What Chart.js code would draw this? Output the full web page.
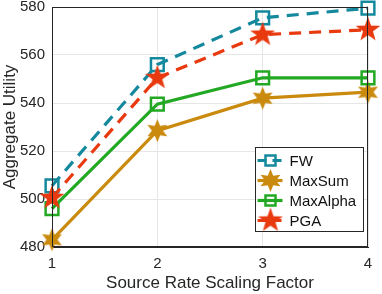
<!DOCTYPE html>
<html>
<head>
  <meta charset="UTF-8">
  <script src="https://cdn.jsdelivr.net/npm/chart.js"></script>
  <style>
    html, body { margin: 0; padding: 0; background: #fff; }
    #wrap { width: 382px; height: 294px; }
  </style>
</head>
<body>
<div id="wrap"><canvas id="chart" width="382" height="294"></canvas></div>
<script>
  // data
  const scaling = [1, 2, 3, 4];
  const fw = [505.5, 556, 575.5, 579.5];
  const maxSum = [483, 528.5, 542, 544.5];
  const maxAlpha = [496, 539.5, 550.5, 550.5];
  const pga = [500.5, 550.5, 568.5, 570.5];
  const yTicks = [480, 500, 520, 540, 560, 580];
  const names = ['FW', 'MaxSum', 'MaxAlpha', 'PGA'];

  const teal = '#14899d', gold = '#c98a0e', green = '#22a822', red = '#e8390f';

  // star shaped markers drawn on small canvases
  function starImg(n, rOut, rIn, color) {
    const s = Math.ceil(rOut * 2 + 4);
    const c = document.createElement('canvas');
    c.width = s; c.height = s;
    const g = c.getContext('2d');
    g.beginPath();
    for (let i = 0; i < n * 2; i++) {
      const r = i % 2 ? rIn : rOut;
      const a = -Math.PI / 2 + i * Math.PI / n;
      g.lineTo(s / 2 + r * Math.cos(a), s / 2 + r * Math.sin(a));
    }
    g.closePath();
    g.fillStyle = color;
    g.fill();
    return c;
  }
  const pentagram = starImg(5, 13, 5.2, red);
  const hexagram = starImg(6, 11.5, 5.5, gold);

  const pts = v => v.map((y, i) => ({ x: scaling[i], y: y }));

  const datasets = [
    { label: names[0], data: pts(fw), borderColor: teal, borderDash: [12, 8], pointStyle: 'rect', pointRadius: 9, pointBorderWidth: 2.5, order: 4 },
    { label: names[1], data: pts(maxSum), borderColor: gold, borderDash: [], pointStyle: hexagram, order: 3 },
    { label: names[2], data: pts(maxAlpha), borderColor: green, borderDash: [], pointStyle: 'rect', pointRadius: 9, pointBorderWidth: 2.5, order: 2 },
    { label: names[3], data: pts(pga), borderColor: red, borderDash: [12, 8], pointStyle: pentagram, order: 1 }
  ].map(d => Object.assign({
    borderWidth: 3.2,
    tension: 0,
    clip: false,
    pointBackgroundColor: 'rgba(0,0,0,0)',
    pointBorderColor: d.borderColor
  }, d));

  // legend inside the plot, bottom right, plus the axes box
  const boxLegend = {
    id: 'boxLegend',
    afterDraw(chart) {
      const ctx = chart.ctx, a = chart.chartArea;
      ctx.save();
      ctx.strokeStyle = '#262626';
      ctx.lineWidth = 1;
      ctx.strokeRect(a.left + 0.5, a.top + 0.5, a.right - a.left - 1, a.bottom - a.top - 1);

      const x0 = 255.5, y0 = 147.5, w = 108, h = 84;
      ctx.fillStyle = '#fff';
      ctx.fillRect(x0, y0, w, h);
      ctx.strokeStyle = '#262626';
      ctx.strokeRect(x0, y0, w, h);
      ctx.font = '15px "Liberation Sans", Arial, sans-serif';
      ctx.textBaseline = 'middle';
      chart.data.datasets.forEach((d, i) => {
        const y = y0 + 13 + i * 20;
        ctx.strokeStyle = d.borderColor;
        ctx.lineWidth = d.borderWidth;
        ctx.setLineDash(d.borderDash.length ? [9, 6] : []);
        ctx.beginPath();
        ctx.moveTo(x0 + 2, y); ctx.lineTo(x0 + 27, y);
        ctx.stroke();
        ctx.setLineDash([]);
        const mx = x0 + 15;
        if (d.pointStyle === 'rect') {
          ctx.lineWidth = 2.5;
          ctx.strokeRect(mx - 5, y - 5, 10, 10);
        } else {
          const im = d.pointStyle;
          ctx.drawImage(im, mx - im.width / 2, y - im.height / 2);
        }
        ctx.fillStyle = '#111';
        ctx.fillText(d.label, x0 + 34, y + 1);
      });
      ctx.restore();
    }
  };

  const font = { family: '"Liberation Sans", Arial, sans-serif', size: 15 };
  const titleFont = { family: '"Liberation Sans", Arial, sans-serif', size: 17 };

  new Chart(document.getElementById('chart'), {
    type: 'line',
    data: { datasets: datasets },
    options: {
      responsive: false,
      animation: false,
      layout: { autoPadding: false, padding: { top: 7, right: 14, left: 0, bottom: 0 } },
      plugins: { legend: { display: false }, tooltip: { enabled: false } },
      scales: {
        x: {
          type: 'linear', min: 1, max: 4,
          afterBuildTicks: s => { s.ticks = scaling.map(v => ({ value: v })); },
          afterFit: s => { s.height = 47; s.paddingLeft = 0; s.paddingRight = 0; },
          grid: { color: '#e6e6e6', tickLength: 0 },
          border: { color: '#262626' },
          ticks: { font: font, color: '#262626', padding: 8, maxRotation: 0 },
          title: { display: true, text: 'Source Rate Scaling Factor', font: titleFont, color: '#262626', padding: { top: 4, bottom: 0 } }
        },
        y: {
          min: 480, max: 580,
          afterBuildTicks: s => { s.ticks = yTicks.map(v => ({ value: v })); },
          afterFit: s => { s.width = 52; s.paddingTop = 0; s.paddingBottom = 0; },
          grid: { color: '#e6e6e6', tickLength: 0 },
          border: { color: '#262626' },
          ticks: { font: font, color: '#262626', padding: 7 },
          title: { display: true, text: 'Aggregate Utility', font: titleFont, color: '#262626', padding: { top: 0, bottom: 0 } }
        }
      }
    },
    plugins: [boxLegend]
  });
</script>
</body>
</html>
